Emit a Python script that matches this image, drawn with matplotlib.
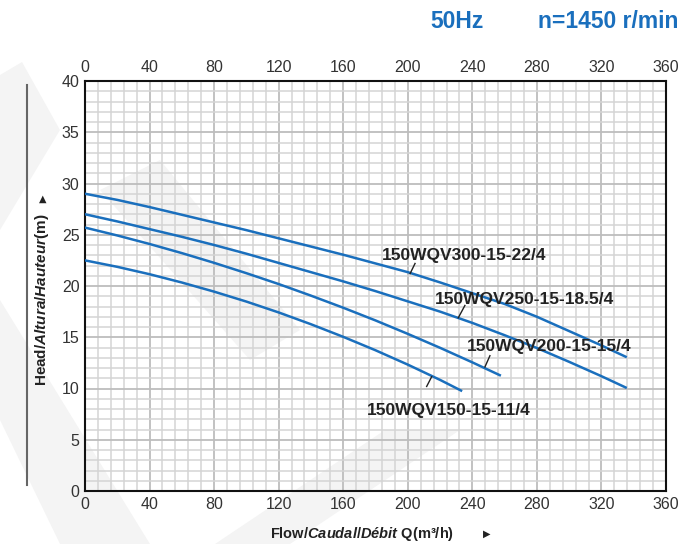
import matplotlib

matplotlib.use("Agg")
import matplotlib.pyplot as plt
from matplotlib.patches import Polygon
from matplotlib.ticker import MultipleLocator

# values (flow m3/h, head m)
flow_300 = [0, 20, 40, 60, 80, 100, 120, 140, 160, 180, 200, 220, 240, 260, 280, 300, 320, 335]
head_300 = [29.0, 28.4, 27.7, 26.95, 26.2, 25.45, 24.65, 23.85, 23.05, 22.2, 21.35, 20.35, 19.3, 18.25, 17.0, 15.6, 14.2, 13.1]

flow_250 = [0, 20, 40, 60, 80, 100, 120, 140, 160, 180, 200, 220, 240, 260, 280, 300, 320, 335]
head_250 = [27.0, 26.3, 25.55, 24.8, 24.0, 23.15, 22.25, 21.35, 20.45, 19.5, 18.5, 17.5, 16.4, 15.2, 13.95, 12.6, 11.2, 10.1]

flow_200 = [0, 20, 40, 60, 80, 100, 120, 140, 160, 180, 200, 220, 240, 257]
head_200 = [25.7, 24.93, 24.1, 23.21, 22.26, 21.25, 20.19, 19.06, 17.88, 16.64, 15.33, 13.97, 12.55, 11.3]

flow_150 = [0, 20, 40, 60, 80, 100, 120, 140, 160, 180, 200, 220, 233]
head_150 = [22.5, 21.87, 21.15, 20.34, 19.45, 18.48, 17.42, 16.27, 15.04, 13.73, 12.33, 10.84, 9.8]

series_names = ["150WQV300-15-22/4", "150WQV250-15-18.5/4", "150WQV200-15-15/4", "150WQV150-15-11/4"]
x_ticks = [0, 40, 80, 120, 160, 200, 240, 280, 320, 360]
y_ticks = [0, 5, 10, 15, 20, 25, 30, 35, 40]

BLUE = "#1a6fbd"
SANS = ["Liberation Sans", "DejaVu Sans"]

plt.rcParams["font.family"] = SANS
plt.rcParams["mathtext.fontset"] = "custom"
plt.rcParams["mathtext.rm"] = "Liberation Sans:bold"
plt.rcParams["mathtext.it"] = "Liberation Sans:italic:bold"
plt.rcParams["mathtext.bf"] = "Liberation Sans:bold"

W, H = 697, 544


def fx(px):
    return px / W


def fy(py):
    return 1 - py / H


fig = plt.figure(figsize=(6.97, 5.44), dpi=100)

# faint watermark shapes behind the chart
for pts in [
    [(0, 75), (22, 62), (60, 130), (0, 230)],
    [(0, 300), (0, 420), (60, 544), (150, 544)],
    [(215, 544), (290, 544), (460, 430), (385, 430)],
    [(100, 190), (160, 160), (300, 330), (250, 360)],
]:
    fig.patches.append(Polygon([(fx(a), fy(b)) for a, b in pts], closed=True,
                               transform=fig.transFigure, facecolor="#f4f4f4",
                               edgecolor="none", zorder=-1))

ax = fig.add_axes([fx(85), fy(491), 581 / W, 410 / H])
ax.set_facecolor("none")

for fxs, hys in [(flow_300, head_300), (flow_250, head_250),
                 (flow_200, head_200), (flow_150, head_150)]:
    ax.plot(fxs, hys, color=BLUE, linewidth=1.8, zorder=3)

ax.set_xlim(0, 360)
ax.set_ylim(0, 40)
ax.set_xticks(x_ticks)
ax.set_yticks(y_ticks)
ax.xaxis.set_minor_locator(MultipleLocator(8))
ax.yaxis.set_minor_locator(MultipleLocator(1))
ax.grid(which="minor", color="#d4d4d4", linewidth=1.1, zorder=1)
ax.grid(which="major", color="#bdbdbd", linewidth=1.3, zorder=1)
ax.set_axisbelow(True)
ax.tick_params(which="both", length=0, labeltop=True, labelsize=11.5,
               labelcolor="#333333", pad=4)
ax.tick_params(axis="y", pad=4)
for sp in ax.spines.values():
    sp.set_linewidth(1.5)
    sp.set_color("#111111")

# curve labels with short leader strokes
label_pos = [(183.8, 23.0), (216.8, 18.7), (236.4, 14.1), (174.7, 7.9)]
leaders = [
    ((204.5, 22.2), (201.4, 21.2)),
    ((235.4, 18.1), (231.3, 16.9)),
    ((250.9, 13.2), (247.8, 12.1)),
    ((214.8, 11.15), (211.7, 10.2)),
]
for name, (lx, ly), (p0, p1) in zip(series_names, label_pos, leaders):
    ax.text(lx, ly, name, fontsize=12.5, fontweight="bold", color="#222222",
            ha="left", va="center", zorder=4)
    ax.plot([p0[0], p1[0]], [p0[1], p1[1]], color="#222222", linewidth=1.0, zorder=4)

# header
fig.text(fx(430), fy(21), "50Hz", color=BLUE, fontsize=16.5, fontweight="bold",
         ha="left", va="center")
fig.text(fx(678), fy(21), "n=1450 r/min", color=BLUE, fontsize=16.5, fontweight="bold",
         ha="right", va="center")

# axis titles
fig.text(fx(362), fy(534), r"Flow/$\mathit{Caudal/Débit}$ Q(m³/h)",
         fontsize=10.5, fontweight="bold", color="#222222", ha="center", va="center")
fig.text(fx(487), fy(534), "▶", fontsize=7, color="#222222",
         ha="center", va="center", family=["DejaVu Sans"])
fig.text(fx(42), fy(300), r"Head/$\mathit{Altura/Hauteur}$(m)",
         fontsize=11, fontweight="bold", color="#222222", rotation=90,
         ha="center", va="center")
fig.text(fx(43), fy(199), "▲", fontsize=7, color="#222222",
         ha="center", va="center", family=["DejaVu Sans"])

# decorative rule at the left edge
fig.add_artist(plt.Line2D([fx(27), fx(27)], [fy(485), fy(85)],
                          transform=fig.transFigure, color="#666666", linewidth=1.5))

fig.savefig("out.png", dpi=100)
